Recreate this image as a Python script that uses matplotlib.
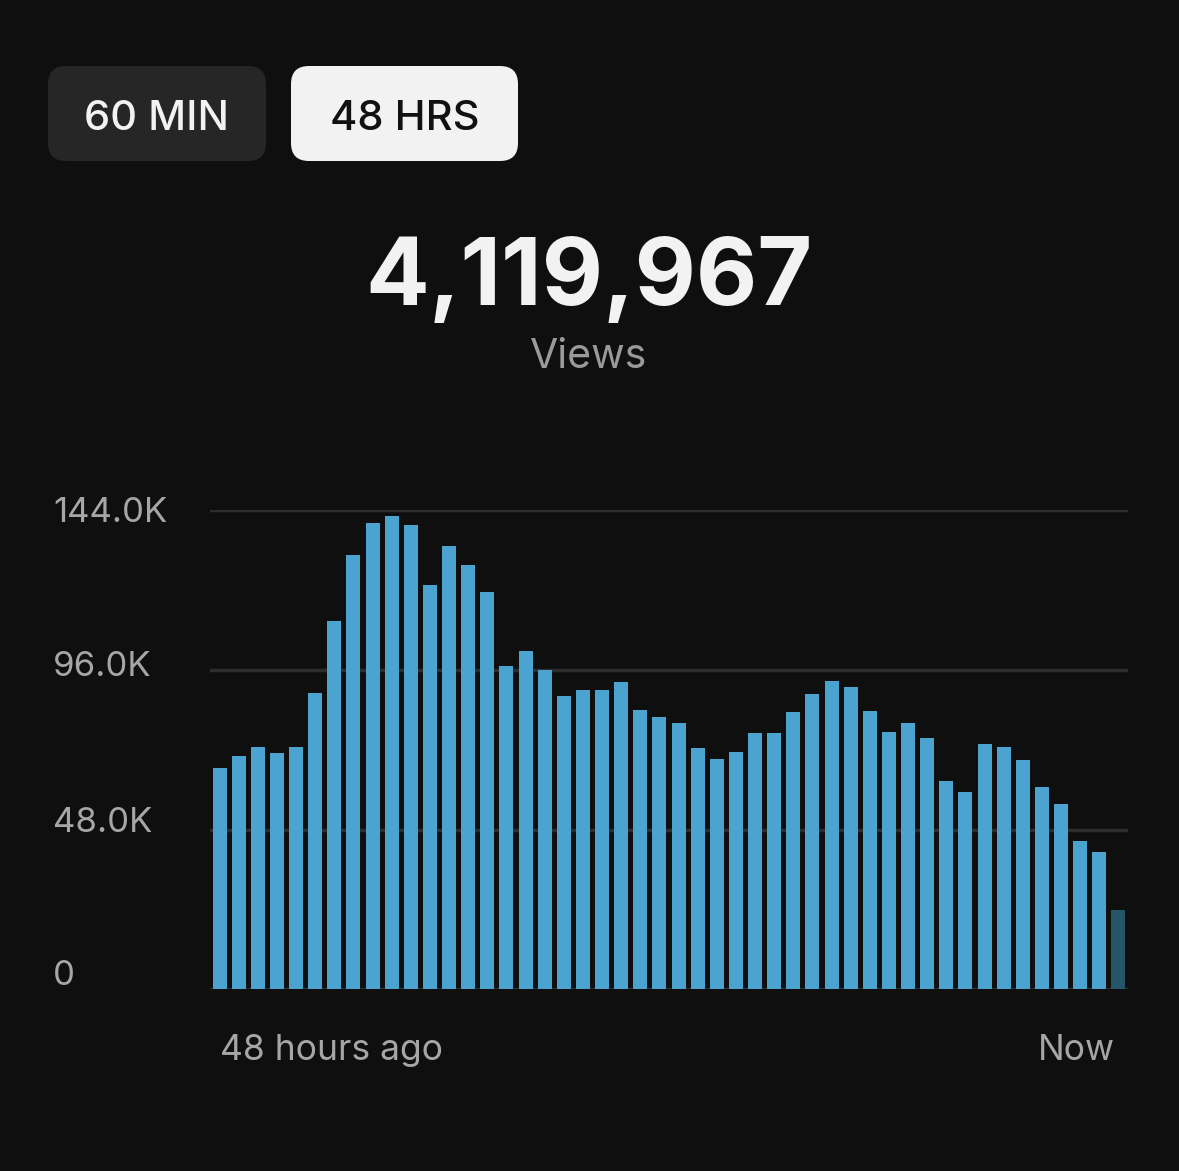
import matplotlib
matplotlib.use("Agg")
import matplotlib.pyplot as plt
from matplotlib.patches import FancyBboxPatch
from matplotlib import transforms

plt.rcParams['font.family'] = ['Inter', 'DejaVu Sans']

# hourly views over the last 48 hours (last bar is the current, partial hour)
views = [66.4, 70.1, 72.8, 71.0, 72.7, 88.9, 110.6, 130.4, 140.2, 142.2,
         139.4, 121.4, 133.2, 127.5, 119.3, 97.1, 101.6, 95.9, 88.1, 89.9,
         89.9, 92.2, 84.0, 81.8, 79.9, 72.6, 69.2, 71.4, 77.1, 77.1,
         83.3, 88.7, 92.5, 90.8, 83.6, 77.2, 79.9, 75.4, 62.5, 59.2,
         73.6, 72.8, 69.0, 60.7, 55.7, 44.6, 41.2, 23.7]
views = [v * 1000 for v in views]
hours = list(range(len(views)))

y_ticks = [0, 48000, 96000, 144000]
y_tick_labels = ["0", "48.0K", "96.0K", "144.0K"]
x_labels = ["48 hours ago", "Now"]
tabs = ["60 MIN", "48 HRS"]
total_views = "4,119,967"
total_label = "Views"

BG = "#0f0f0f"
BAR = "#4ba3cf"
BAR_PARTIAL = "#245569"
GRID = "#2d2d2d"
LABEL = "#a6a6a6"

W, H = 1179, 1171
fig = plt.figure(figsize=(W / 100, H / 100), dpi=100, facecolor=BG)

# overlay in pixel coordinates for the header elements
over = fig.add_axes([0, 0, 1, 1])
over.set_xlim(0, W)
over.set_ylim(H, 0)
over.set_axis_off()

# chart axes
ax_l, ax_r, ax_t, ax_b = 210, 1128, 510, 989.3
ax = fig.add_axes([ax_l / W, 1 - ax_b / H, (ax_r - ax_l) / W, (ax_b - ax_t) / H])
ax.set_facecolor(BG)
for s in ax.spines.values():
    s.set_visible(False)

colors = [BAR] * (len(views) - 1) + [BAR_PARTIAL]
ax.bar(hours, views, width=0.73, color=colors, zorder=2)
for t in y_ticks:
    ax.axhline(t, color=GRID, lw=2.5, zorder=1)
ax.set_xlim(-0.5, len(views) - 0.5)
ax.set_ylim(0, 144000)
ax.set_xticks([])
ax.set_yticks([])

# y labels, left aligned at a fixed x, baseline nudged per label (px below line)
ytr = ax.get_yaxis_transform()
x_lab = (53 - ax_l) / (ax_r - ax_l)
offsets = [-4, 2.5, 6, 12]
for t, lab, off in zip(y_ticks, y_tick_labels, offsets):
    tr = ytr + transforms.ScaledTranslation(0, -off / 100, fig.dpi_scale_trans)
    ax.text(x_lab, t, lab, transform=tr, ha="left", va="baseline",
            color=LABEL, fontsize=25)

# x labels
xtr = transforms.blended_transform_factory(ax.transData, over.transData)
ax.text(hours[0], 1060, x_labels[0], transform=xtr, ha="left", va="baseline",
        color=LABEL, fontsize=25.5)
ax.text(hours[-1] - 0.2, 1060, x_labels[1], transform=xtr, ha="right", va="baseline",
        color=LABEL, fontsize=25.5)

# tab buttons
tab_boxes = [(48, 66, 218, 95), (291, 66, 227, 95)]
tab_fill = ["#262626", "#f2f2f2"]
tab_text = ["#f2f2f2", "#111111"]
for (x, y, w, h), lab, fc, tc in zip(tab_boxes, tabs, tab_fill, tab_text):
    r = 18
    over.add_patch(FancyBboxPatch((x + r, y + r), w - 2 * r, h - 2 * r,
                                  boxstyle=f"round,pad={r}", fc=fc, ec="none"))
    over.text(x + w / 2, 130, lab, ha="center", va="baseline",
              color=tc, fontsize=30, fontweight="medium")

# headline number
over.text(589, 305, total_views, ha="center", va="baseline",
          color="#f2f2f2", fontsize=68, fontweight="bold")
over.text(589, 368, total_label, ha="center", va="baseline",
          color="#9a9a9a", fontsize=29.5)

fig.savefig("out.png", dpi=100, facecolor=BG)
